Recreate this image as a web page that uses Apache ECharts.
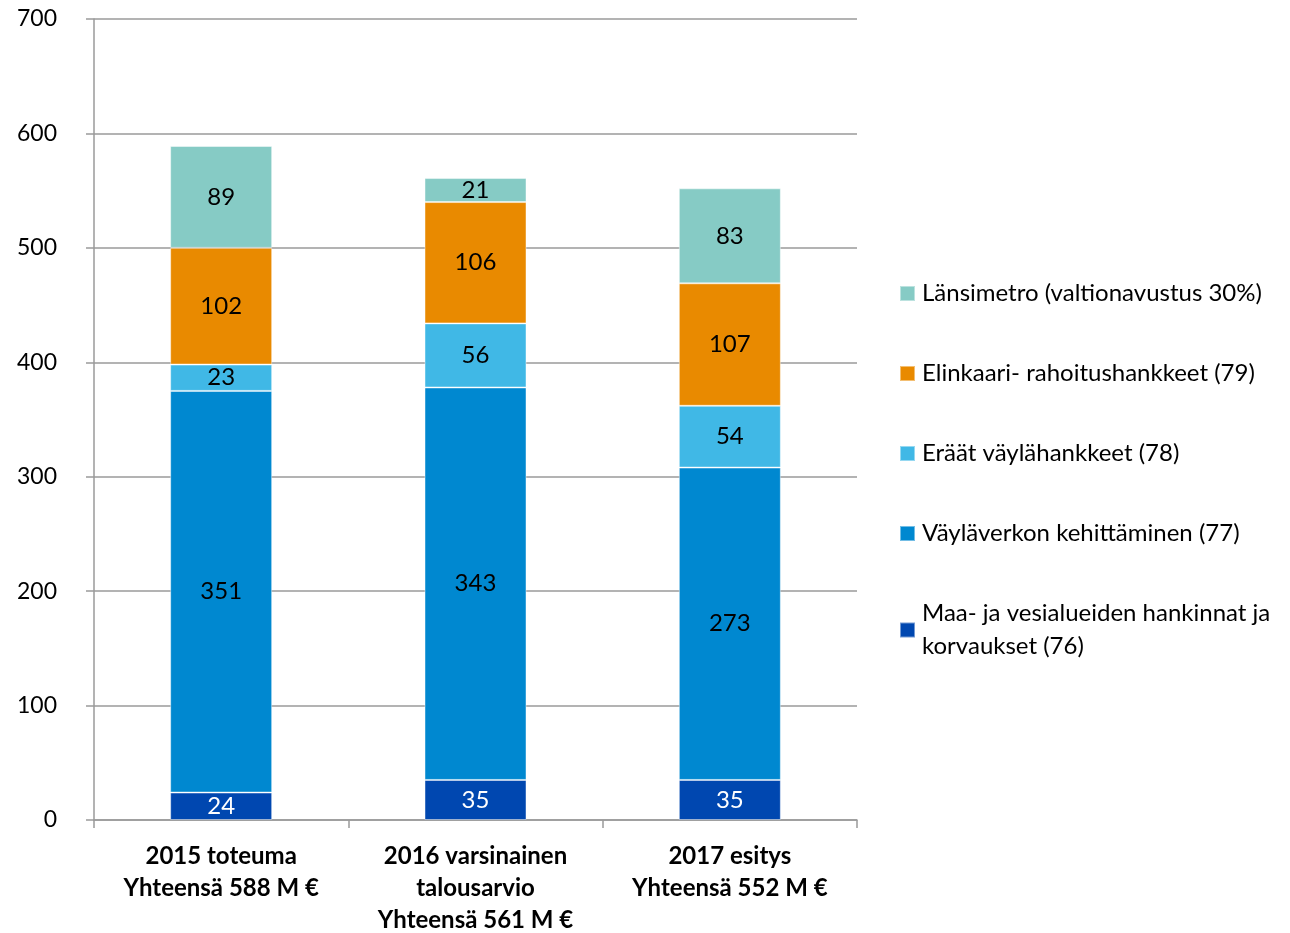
<!DOCTYPE html>
<html>
<head>
<meta charset="utf-8">
<script src="https://cdn.jsdelivr.net/npm/echarts@6/dist/echarts.min.js"></script>
<style>
  html, body { margin: 0; padding: 0; background: #fff; }
  #chart { width: 1290px; height: 933px; }
</style>
</head>
<body>
<div id="chart"></div>
<script>
const categories = [
    '2015 toteuma\nYhteensä 588 M €',
    '2016 varsinainen\ntalousarvio\nYhteensä 561 M €',
    '2017 esitys\nYhteensä 552 M €'
];

// stack order: bottom first
const seriesNames = [
    'Maa- ja vesialueiden hankinnat ja korvaukset (76)',
    'Väyläverkon kehittäminen (77)',
    'Eräät väylähankkeet (78)',
    'Elinkaari- rahoitushankkeet (79)',
    'Länsimetro (valtionavustus 30%)'
];
const maaVesi = [24, 35, 35];
const vaylaverkko = [351, 343, 273];
const eraat = [23, 56, 54];
const elinkaari = [102, 106, 107];
const lansimetro = [89, 21, 83];

const seriesValues = [maaVesi, vaylaverkko, eraat, elinkaari, lansimetro];
const seriesColors = ['#0047b0', '#0088d0', '#40b8e6', '#e98a00', '#86cbc5'];
const labelColors = ['#ffffff', '#000000', '#000000', '#000000', '#000000'];

const yTicks = [0, 100, 200, 300, 400, 500, 600, 700];

const FONT = 'Lato';

const chart = echarts.init(document.getElementById('chart'));

const series = seriesNames.map((name, i) => ({
    name: name,
    type: 'bar',
    stack: 'total',
    barWidth: 102,
    data: seriesValues[i],
    itemStyle: {
        color: seriesColors[i],
        borderColor: 'rgba(255,255,255,0.45)',
        borderWidth: 1
    },
    label: {
        show: true,
        position: 'inside',
        color: labelColors[i],
        fontFamily: FONT,
        fontSize: 24
    },
    emphasis: { disabled: true }
}));

chart.setOption({
    animation: false,
    backgroundColor: '#ffffff',
    grid: { left: 94, right: 433, top: 19, bottom: 113, outerBoundsMode: 'none', containLabel: false },
    legend: {
        orient: 'vertical',
        left: 899,
        top: 277,
        padding: 0,
        itemWidth: 15,
        itemHeight: 15,
        itemGap: 47,
        icon: 'rect',
        data: seriesNames.slice().reverse(),
        formatter: function (name) {
            if (name.indexOf('Maa-') === 0) {
                return 'Maa- ja vesialueiden hankinnat ja\nkorvaukset (76)';
            }
            return name;
        },
        textStyle: {
            fontFamily: FONT,
            fontSize: 24,
            lineHeight: 33,
            color: '#000',
            padding: [0, 0, 0, 2]
        },
        selectedMode: false
    },
    xAxis: {
        type: 'category',
        data: categories,
        axisLine: { lineStyle: { color: '#9a9a9a', width: 1.5 } },
        axisTick: { show: true, length: 8, lineStyle: { color: '#9a9a9a', width: 1.5 } },
        axisLabel: {
            fontFamily: FONT,
            fontSize: 24,
            fontWeight: 'bold',
            color: '#000',
            lineHeight: 32,
            margin: 20,
            interval: 0
        }
    },
    yAxis: {
        type: 'value',
        min: yTicks[0],
        max: yTicks[yTicks.length - 1],
        interval: 100,
        axisLine: { show: true, lineStyle: { color: '#9a9a9a', width: 1.5 } },
        axisTick: { show: true, length: 8, lineStyle: { color: '#9a9a9a', width: 1.5 } },
        splitLine: { show: true, lineStyle: { color: '#9a9a9a', width: 1.5 } },
        axisLabel: {
            fontFamily: FONT,
            fontSize: 23,
            color: '#000',
            margin: 37
        }
    },
    series: series
});
</script>
</body>
</html>
